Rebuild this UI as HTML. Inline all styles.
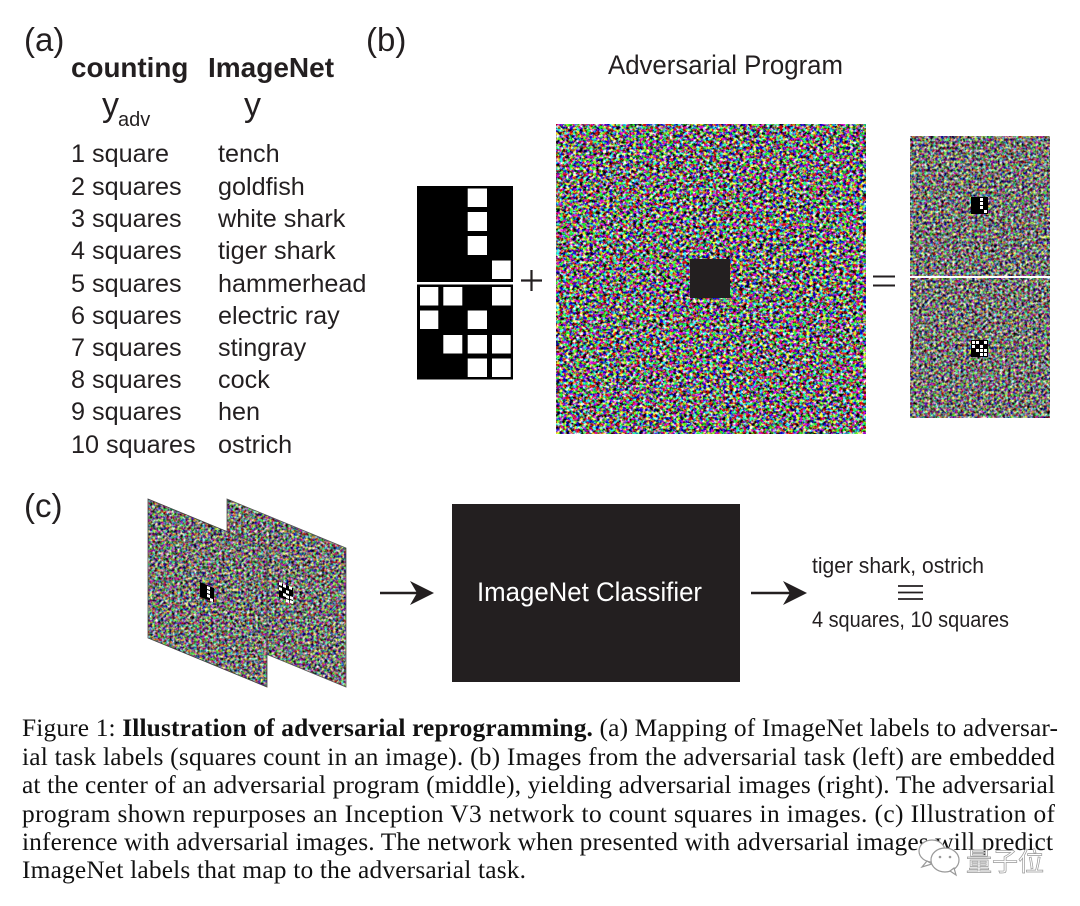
<!DOCTYPE html>
<html lang="en">
<head>
<meta charset="utf-8">
<title>Figure 1: Illustration of adversarial reprogramming</title>
<style>
html,body{margin:0;padding:0;background:#fff;width:1080px;height:906px;overflow:hidden}
svg{display:block}
.s{font-family:"Liberation Sans",sans-serif;fill:#231f20}
.t{font-size:25.2px}
.c{font-family:"Liberation Serif",serif;font-size:25.4px;fill:#111}
</style>
</head>
<body>
<svg width="1080" height="906" viewBox="0 0 1080 906" xmlns="http://www.w3.org/2000/svg">
<defs>
<filter id="n1" x="0" y="0" width="1" height="1" color-interpolation-filters="sRGB">
<feTurbulence type="fractalNoise" baseFrequency="0.3 0.34" numOctaves="3" seed="7"/>
<feColorMatrix type="matrix" values="4.2 0 0 0 -1.66  0 4.2 0 0 -1.66  0 0 4.2 0 -1.66  0 0 0 0 1"/>
<feColorMatrix type="saturate" values="0.8"/>
</filter>
<filter id="n2" x="0" y="0" width="1" height="1" color-interpolation-filters="sRGB">
<feTurbulence type="fractalNoise" baseFrequency="0.36" numOctaves="2" seed="11"/>
<feColorMatrix type="matrix" values="2.4 0 0 0 -0.74  0 2.4 0 0 -0.74  0 0 2.4 0 -0.76  0 0 0 0 1"/>
<feColorMatrix type="saturate" values="0.65"/>
</filter>
<clipPath id="p1"><polygon points="148,499 267,548 267,687 148,638"/></clipPath>
<clipPath id="p2"><polygon points="227,499 346,548 346,687 227,638"/></clipPath>
</defs>

<rect width="1080" height="906" fill="#fff"/>

<!-- (a) -->
<text class="s" x="24" y="51" font-size="33">(a)</text>
<text class="s" x="71" y="77" font-size="27.8" font-weight="700">counting</text>
<text class="s" x="208" y="77" font-size="28" font-weight="700">ImageNet</text>
<text class="s" x="102" y="116" font-size="34">y</text>
<text class="s" x="118" y="126" font-size="20">adv</text>
<text class="s" x="244" y="116" font-size="34">y</text>
<g class="s t">
<text x="71" y="162">1 square</text><text x="218" y="162">tench</text>
<text x="71" y="195">2 squares</text><text x="218" y="195">goldfish</text>
<text x="71" y="227">3 squares</text><text x="218" y="227">white shark</text>
<text x="71" y="259">4 squares</text><text x="218" y="259">tiger shark</text>
<text x="71" y="292">5 squares</text><text x="218" y="292">hammerhead</text>
<text x="71" y="324">6 squares</text><text x="218" y="324">electric ray</text>
<text x="71" y="356">7 squares</text><text x="218" y="356">stingray</text>
<text x="71" y="388">8 squares</text><text x="218" y="388">cock</text>
<text x="71" y="420">9 squares</text><text x="218" y="420">hen</text>
<text x="71" y="453">10 squares</text><text x="218" y="453">ostrich</text>
</g>

<!-- (b) -->
<text class="s" x="366" y="51" font-size="33">(b)</text>
<text class="s" x="608" y="74" font-size="27" textLength="235" lengthAdjust="spacingAndGlyphs">Adversarial Program</text>

<rect x="417" y="186" width="96" height="96" fill="#000"/>
<rect x="417" y="284.5" width="96" height="95" fill="#000"/>
<g fill="#fff">
<rect x="467.7" y="188.5" width="19.3" height="18.5"/>
<rect x="467.7" y="212" width="19.3" height="19"/>
<rect x="467.7" y="236" width="19.3" height="19"/>
<rect x="492" y="260.5" width="18.7" height="18.5"/>
<rect x="420" y="287" width="18.3" height="18.5"/>
<rect x="443.3" y="287" width="19" height="18.5"/>
<rect x="492" y="287" width="18.7" height="18.5"/>
<rect x="420" y="310.5" width="18.3" height="18.5"/>
<rect x="467.7" y="310.5" width="19.3" height="18.5"/>
<rect x="443.3" y="335" width="19" height="18.5"/>
<rect x="467.7" y="335" width="19.3" height="18.5"/>
<rect x="492" y="335" width="18.7" height="18.5"/>
<rect x="467.7" y="358.5" width="19.3" height="18.5"/>
<rect x="492" y="358.5" width="18.7" height="18.5"/>
</g>
<path d="M521 280.5H542M531.5 270V291" stroke="#231f20" stroke-width="2.2" fill="none"/>

<rect x="556" y="124" width="310" height="310" filter="url(#n1)"/>
<rect x="690" y="259" width="40" height="39" fill="#231f20"/>

<path d="M873 276.5H895M873 285.5H895" stroke="#231f20" stroke-width="2" fill="none"/>

<rect x="910" y="136" width="140" height="140" filter="url(#n2)"/>
<rect x="910" y="278" width="140" height="140" filter="url(#n2)"/>
<rect x="971" y="197" width="17" height="17" fill="#000"/>
<g fill="#fff">
<rect x="980" y="198" width="3" height="3"/><rect x="980" y="202" width="3" height="3"/><rect x="980" y="206" width="3" height="3"/><rect x="984" y="210" width="3" height="3"/>
</g>
<rect x="971" y="340" width="17" height="17" fill="#000"/>
<g fill="#fff">
<rect x="972" y="341" width="3" height="3"/><rect x="976" y="341" width="3" height="3"/><rect x="984" y="341" width="3" height="3"/>
<rect x="972" y="345" width="3" height="3"/><rect x="980" y="345" width="3" height="3"/>
<rect x="976" y="349" width="3" height="3"/><rect x="980" y="349" width="3" height="3"/><rect x="984" y="349" width="3" height="3"/>
<rect x="980" y="353" width="3" height="3"/><rect x="984" y="353" width="3" height="3"/>
</g>

<!-- (c) -->
<text class="s" x="24" y="517" font-size="33">(c)</text>
<g clip-path="url(#p2)"><rect x="227" y="499" width="119" height="188" filter="url(#n2)"/></g>
<polygon points="227,499 346,548 346,687 227,638" fill="none" stroke="#555" stroke-width="0.8"/>
<g clip-path="url(#p1)"><rect x="148" y="499" width="119" height="188" filter="url(#n2)"/></g>
<polygon points="148,499 267,548 267,687 148,638" fill="none" stroke="#444" stroke-width="0.8"/>
<polygon points="200,582 214,588 214,602 200,597" fill="#000"/>
<g fill="#fff">
<polygon points="207,586 210,587 210,590 207,589"/><polygon points="207,590 210,591 210,594 207,593"/><polygon points="207,594 210,595 210,598 207,597"/><polygon points="210,598 213,599 213,602 210,601"/>
</g>
<polygon points="279,582 293,588 293,602 279,597" fill="#000"/>
<g fill="#fff">
<polygon points="279,582 282,583 282,586 279,585"/><polygon points="283,584 286,585 286,588 283,587"/><polygon points="289,586 292,587 292,590 289,589"/>
<polygon points="279,587 282,588 282,591 279,590"/><polygon points="286,590 289,591 289,594 286,593"/>
<polygon points="283,593 286,594 286,597 283,596"/><polygon points="286,595 289,596 289,599 286,598"/><polygon points="290,596 293,597 293,600 290,599"/>
<polygon points="286,599 289,600 289,603 286,602"/><polygon points="290,600 293,601 293,604 290,603"/>
</g>

<path d="M380 593H424" stroke="#231f20" stroke-width="2.4"/>
<polygon points="434,593 410,581 417,593 410,605" fill="#231f20"/>

<rect x="452" y="504" width="288" height="178" fill="#231f20"/>
<text x="477" y="601" font-family="Liberation Sans,sans-serif" font-size="27" fill="#fff" textLength="225" lengthAdjust="spacingAndGlyphs">ImageNet Classifier</text>

<path d="M751 593H796" stroke="#231f20" stroke-width="2.4"/>
<polygon points="807,593 783,581 790,593 783,605" fill="#231f20"/>

<text class="s" x="812" y="573" font-size="22" textLength="172" lengthAdjust="spacingAndGlyphs">tiger shark, ostrich</text>
<path d="M898 586H923M898 592.5H923M898 599H923" stroke="#231f20" stroke-width="1.8"/>
<text class="s" x="812" y="627" font-size="22" textLength="197" lengthAdjust="spacingAndGlyphs">4 squares, 10 squares</text>

<!-- caption -->
<text class="c" x="22" y="736" textLength="1036" lengthAdjust="spacing">Figure 1: <tspan font-weight="700">Illustration of adversarial reprogramming.</tspan> (a) Mapping of ImageNet labels to adversar-</text>
<text class="c" x="22" y="765" textLength="1033" lengthAdjust="spacing">ial task labels (squares count in an image). (b) Images from the adversarial task (left) are embedded</text>
<text class="c" x="22" y="793" textLength="1033" lengthAdjust="spacing">at the center of an adversarial program (middle), yielding adversarial images (right). The adversarial</text>
<text class="c" x="22" y="822" textLength="1033" lengthAdjust="spacing">program shown repurposes an Inception V3 network to count squares in images. (c) Illustration of</text>
<text class="c" x="22" y="850" textLength="1031" lengthAdjust="spacing">inference with adversarial images. The network when presented with adversarial images will predict</text>
<text class="c" x="22" y="878" textLength="504" lengthAdjust="spacing">ImageNet labels that map to the adversarial task.</text>

<!-- watermark -->
<g fill="#fff" stroke="#999" stroke-width="1.2">
<ellipse cx="932" cy="851" rx="13" ry="11"/>
<path d="M927 861l-5 6 10-3z"/>
<ellipse cx="945" cy="860" rx="14" ry="12"/>
<path d="M950 871l6 4-2-7z"/>
</g>
<circle cx="940" cy="857" r="1.3" fill="#999"/><circle cx="950" cy="857" r="1.3" fill="#999"/>
<text x="966" y="871" font-family="Liberation Sans,'Noto Sans CJK SC',sans-serif" font-size="26" fill="#fff" stroke="#999" stroke-width="0.7">量子位</text>
</svg>
</body>
</html>
